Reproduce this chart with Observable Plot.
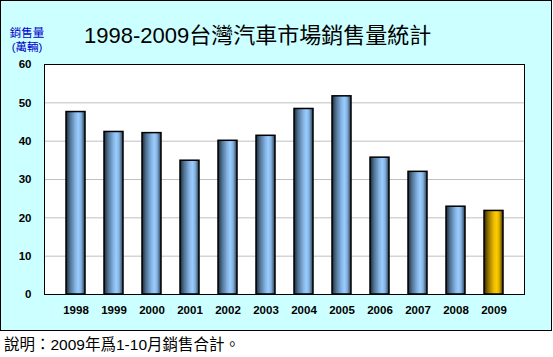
<!DOCTYPE html>
<html>
<head>
<meta charset="utf-8">
<script src="https://cdn.jsdelivr.net/npm/d3@7"></script>
<script src="https://cdn.jsdelivr.net/npm/@observablehq/plot@0.6"></script>
<style>
  html, body { margin: 0; padding: 0; background: #fff; }
  #box { position: absolute; left: 0; top: 0; width: 552px; height: 331px; box-sizing: border-box;
         border: 1px solid #000; background: #CCFFFF; }
  #title { position: absolute; left: 83px; top: 16px; text-align: left;
           font-family: "Liberation Sans", Arial, "Noto Sans CJK TC", sans-serif; font-size: 22px; color: #000; white-space: nowrap; }
  #ylab { position: absolute; left: 5px; top: 25px; width: 42px; text-align: center; line-height: 14px;
          font-family: "Liberation Sans", Arial, "Noto Sans CJK TC", sans-serif; font-size: 11.5px; color: #0000CC; }
  #chart { position: absolute; left: 0; top: 0; }
  #note { position: absolute; left: 4px; top: 332px; font-family: "Liberation Sans", Arial, "Noto Sans CJK TC", sans-serif;
          font-size: 15.5px; color: #000; white-space: nowrap; }
</style>
</head>
<body>
<div id="box">
  <div id="title">1998-2009台灣汽車市場銷售量統計</div>
  <div id="ylab">銷售量<br>(萬輛)</div>
  <div id="chart"></div>
</div>
<div id="note">說明：2009年爲1-10月銷售合計。</div>
<script>
const years = ["1998","1999","2000","2001","2002","2003","2004","2005","2006","2007","2008","2009"];
const sales = [47.6, 42.4, 42.1, 34.9, 40.1, 41.4, 48.4, 51.7, 35.7, 32.0, 22.9, 21.8];
const yTicks = [0, 10, 20, 30, 40, 50, 60];
const gridValues = [10, 20, 30, 40, 50];
const highlightYear = "2009";

const data = years.map((y, i) => ({year: y, value: sales[i]}));

const svg = Plot.plot({
  width: 550,
  height: 329,
  marginLeft: 43,
  marginTop: 63,
  marginRight: 27,
  marginBottom: 36,
  style: {fontFamily: "'Liberation Sans', Arial, sans-serif", fontSize: "11.5px", fontWeight: "bold", background: "transparent", color: "#000", overflow: "visible"},
  x: {domain: years, padding: 0.5, align: 0.5, label: null, tickSize: 0, tickPadding: 11},
  y: {domain: [0, 60], ticks: yTicks, label: null, tickSize: 0, tickPadding: 13},
  marks: [
    Plot.frame({fill: "white", stroke: "none"}),
    Plot.ruleY(gridValues, {stroke: "#c0c0c0", strokeWidth: 1}),
    Plot.barY(data.filter(d => d.year !== highlightYear), {x: "year", y: "value", fill: "url(#gBlue)", stroke: "#000", strokeWidth: 1.5}),
    Plot.barY(data.filter(d => d.year === highlightYear), {x: "year", y: "value", fill: "url(#gGold)", stroke: "#000", strokeWidth: 1.5}),
    Plot.frame({stroke: "#000", strokeWidth: 1})
  ]
});

const defs = d3.select(svg).insert("defs", ":first-child");
function grad(id, stops) {
  const g = defs.append("linearGradient").attr("id", id).attr("x1", 0).attr("x2", 1).attr("y1", 0).attr("y2", 0);
  stops.forEach(([o, c]) => g.append("stop").attr("offset", o).attr("stop-color", c));
}
grad("gBlue", [[0, "#1c2733"], [0.2, "#4d6e8f"], [0.5, "#86b5e6"], [0.65, "#99CCFF"], [0.8, "#83b0dd"], [1, "#26384a"]]);
grad("gGold", [[0, "#2e2200"], [0.2, "#8a6a00"], [0.5, "#e6b800"], [0.65, "#FFCC00"], [0.8, "#dcb000"], [1, "#3a2c00"]]);

document.getElementById("chart").appendChild(svg);
</script>
</body>
</html>
